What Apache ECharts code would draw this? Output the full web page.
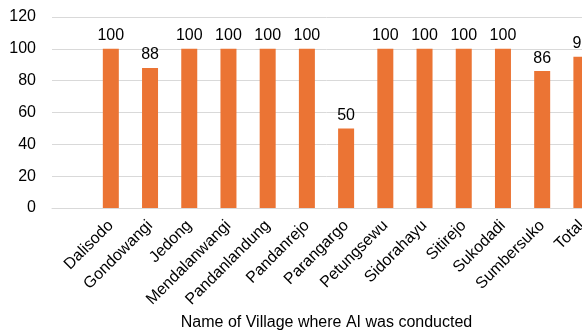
<!DOCTYPE html>
<html>
<head>
<meta charset="utf-8">
<script src="https://cdn.jsdelivr.net/npm/echarts@6/dist/echarts.min.js"></script>
<style>
  html, body { margin: 0; padding: 0; background: #fff; overflow: hidden; }
  #chart { width: 601px; height: 331px; }
</style>
</head>
<body>
<div id="chart"></div>
<script>
// Villages (a leading blank slot keeps the first bar off the axis)
const villages = ['', 'Dalisodo', 'Gondowangi', 'Jedong', 'Mendalanwangi', 'Pandanlandung',
  'Pandanrejo', 'Parangargo', 'Petungsewu', 'Sidorahayu', 'Sitirejo', 'Sukodadi',
  'Sumbersuko', 'Total'];
// Percentage per village
const percentages = [null, 100, 88, 100, 100, 100, 100, 50, 100, 100, 100, 100, 86, 95];
const yTicks = { min: 0, max: 120, step: 20 };
const xTitle = 'Name of Village where AI was conducted';

const chart = echarts.init(document.getElementById('chart'), null, { renderer: 'canvas' });
const font = 'Liberation Sans, Arial, sans-serif';

chart.setOption({
  animation: false,
  backgroundColor: '#ffffff',
  grid: {
    left: 52, right: 0, top: 17, height: 191,
    containLabel: false,
    outerBoundsMode: 'none'
  },
  xAxis: {
    type: 'category',
    data: villages,
    name: xTitle,
    nameLocation: 'middle',
    nameGap: 106,
    nameTextStyle: { fontFamily: font, fontSize: 16, color: '#000' },
    axisLine: { lineStyle: { color: '#d9d9d9', width: 1 } },
    axisTick: { show: false },
    axisLabel: {
      rotate: 45,
      interval: 0,
      margin: 15,
      fontFamily: font,
      fontSize: 16,
      color: '#000'
    }
  },
  yAxis: {
    type: 'value',
    min: yTicks.min,
    max: yTicks.max,
    interval: yTicks.step,
    axisLine: { show: false },
    axisTick: { show: false },
    splitLine: { lineStyle: { color: '#d9d9d9', width: 1 } },
    axisLabel: { fontFamily: font, fontSize: 16, color: '#000', margin: 16 }
  },
  series: [{
    type: 'bar',
    data: percentages,
    barWidth: 16,
    itemStyle: { color: '#EB7434' },
    label: {
      show: true,
      position: 'top',
      distance: 5,
      fontFamily: font,
      fontSize: 16,
      color: '#000'
    }
  }]
});
</script>
</body>
</html>
